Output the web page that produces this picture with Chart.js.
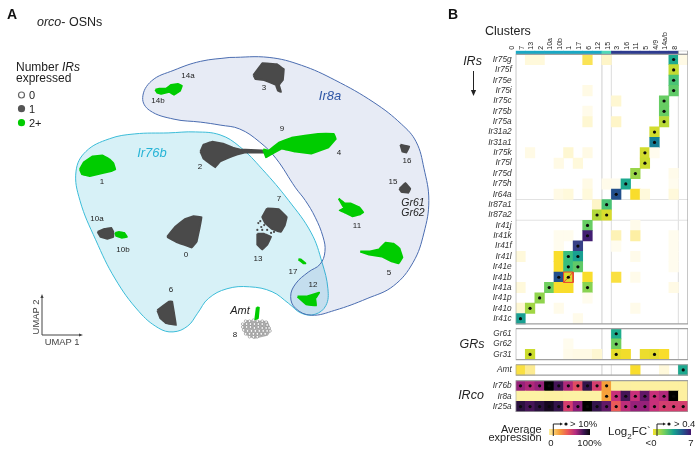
<!DOCTYPE html>
<html>
<head>
<meta charset="utf-8">
<script src="https://cdn.jsdelivr.net/npm/chart.js@4"></script>
<style>
  html, body { margin: 0; padding: 0; background: #fff; }
  #page { position: relative; width: 700px; height: 455px; overflow: hidden; font-family: "Liberation Sans", Arial, sans-serif; color: #222; }
  canvas { position: absolute; top: 0; }
  #umap { left: 0; }
  #matrix { left: 450px; }
  svg { position: absolute; left: 0; top: 0; }
  .t { position: absolute; white-space: nowrap; transform: translate(-50%, -50%); line-height: 1; }
  .r { transform: translate(-100%, -50%); text-align: right; }
  .l { transform: translate(0, -50%); }
  sub { font-size: 70%; line-height: 0; }
</style>
</head>
<body>
<div id="page">
  <canvas id="umap" width="450" height="455"></canvas>
  <canvas id="matrix" width="250" height="455"></canvas>
  <svg width="700" height="455">
    <defs>
      <linearGradient id="gExpr"><stop offset="0" stop-color="#fdf1a0"/><stop offset=".25" stop-color="#f6a13a"/><stop offset=".45" stop-color="#ec5a58"/><stop offset=".65" stop-color="#b32a80"/><stop offset=".85" stop-color="#3a1652"/><stop offset="1" stop-color="#0a0a0a"/></linearGradient>
      <linearGradient id="gFc"><stop offset="0" stop-color="#f3e22c"/><stop offset=".3" stop-color="#6fcf5f"/><stop offset=".55" stop-color="#16a08f"/><stop offset=".8" stop-color="#25508c"/><stop offset="1" stop-color="#43146c"/></linearGradient>
    </defs>
    <!-- legend A -->
    <circle cx="21.5" cy="95" r="3" fill="#fff" stroke="#666" stroke-width="1.2"/>
    <circle cx="21.5" cy="108.7" r="3.6" fill="#555"/>
    <circle cx="21.5" cy="122.7" r="3.6" fill="#00cc00"/>
    <!-- UMAP arrows -->
    <path d="M42 335V296M42 335H81" stroke="#444" fill="none"/>
    <path d="M42 294l-1.6 4h3.2zM83 335l-4 -1.6v3.2z" fill="#444"/>
    <!-- IRs arrow -->
    <path d="M473.5 71V93" stroke="#222" fill="none"/>
    <path d="M473.5 96l-2.6 -6h5.2z" fill="#222"/>
    <!-- colour bars -->
    <rect x="549" y="429" width="41" height="6" fill="url(#gExpr)"/>
    <rect x="653" y="429" width="38" height="6" fill="url(#gFc)"/>
    <path d="M553.3 436V424H561" stroke="#222" fill="none"/>
    <path d="M563 424l-3 -1.6v3.2z" fill="#222"/>
    <circle cx="566" cy="424" r="1.6" fill="#111"/>
    <path d="M657 436V424H664" stroke="#222" fill="none"/>
    <path d="M666 424l-3 -1.6v3.2z" fill="#222"/>
    <circle cx="669" cy="424" r="1.6" fill="#111"/>
  </svg>
</div>
<script>
// Panel A: blobs and regions (x right, y down)
const regionIr76b = [[167,131],[133,132],[107,137],[83,150],[73,170],[77,200],[93,240],[113,280],[137,313],[157,330],[172,334],[187,328],[197,315],[208,300],[227,290],[250,288],[273,293],[290,305],[303,315],[317,316],[328,307],[330,290],[324,263],[313,233],[290,200],[263,168],[240,145],[220,133],[195,130],[167,131]];
const regionIr8a = [[230,54],[200,58],[173,67],[150,78],[141,95],[148,108],[173,117],[200,120],[220,123],[240,127],[260,140],[277,157],[297,187],[307,200],[317,217],[325,237],[327,252],[322,265],[310,273],[297,285],[292,298],[297,310],[313,317],[337,312],[370,300],[397,287],[417,263],[428,233],[433,200],[428,167],[420,140],[405,122],[377,100],[337,77],[303,62],[270,54],[230,54]];

const grayClusters = [
  [[200,150],[203,143],[212,140],[223,142],[233,146],[240,148],[263,149],[265,151],[245,151],[237,153],[227,157],[220,160],[215,166],[208,161],[203,157],[200,150]], // 2
  [[254,72],[263,60],[278,61],[285,66],[284,77],[280,82],[282,89],[279,88],[277,82],[265,77],[256,76],[254,72]], // 3
  [[404,143],[413,145],[410,151],[406,150],[404,143]], // 16
  [[403,188],[409,182],[414,188],[412,192],[405,191],[403,188]], // 15
  [[268,208],[280,209],[288,217],[286,225],[282,232],[273,229],[266,223],[263,217],[268,208]], // 7
  [[258,234],[265,234],[272,237],[268,245],[263,250],[258,245],[258,234]], // 13
  [[166,237],[174,227],[184,219],[193,216],[201,217],[199,228],[196,242],[191,248],[175,242],[166,237]], // 0
  [[95,232],[102,229],[109,228],[111,232],[111,237],[105,239],[98,237],[95,232]], // 10a
  [[156,312],[168,303],[171,303],[173,315],[175,327],[165,325],[159,320],[156,312]] // 6
];
const greenClusters = [
  [[154,87],[158,86],[165,86],[170,82],[177,81],[181,83],[179,88],[173,92],[168,89],[160,91],[156,90],[154,87]], // 14
  [[77,168],[81,161],[90,155],[100,154],[107,158],[111,162],[113,168],[109,170],[100,172],[87,175],[79,173],[77,168]], // 1
  [[264,148],[270,149],[280,141],[293,136],[320,132],[336,132],[338,137],[330,146],[313,152],[297,150],[283,147],[270,154],[267,156],[264,148]], // 9 and 4
  [[341,198],[347,203],[353,203],[362,207],[366,212],[363,214],[355,216],[347,212],[342,210],[347,208],[341,198]], // 11
  [[113,233],[117,232],[122,233],[125,237],[120,238],[114,236],[113,233]], // 10b
  [[300,260],[302,260],[307,264],[305,264],[300,260]], // 17
  [[299,298],[308,298],[321,294],[317,300],[318,307],[308,306],[299,298]], // 12
  [[363,252],[373,252],[382,250],[389,243],[397,244],[403,249],[406,258],[402,264],[395,262],[385,257],[372,255],[363,252]], // 5
  [[257.5,309],[259.5,309],[258.5,320],[256,321],[257.5,309]] // Amt stem in 8
];
const graySpeckle = [[259,223],[262,227],[265,225],[268,230],[272,233],[258,230],[263,230],[275,232],[261,221]];
const cluster8Outline = [[243,328],[248,323],[268,324],[271,332],[268,337],[255,340],[246,336],[243,328]];
const cluster8 = [[246,323],[250,323],[254,322],[258,323],[263,323],[267,324],[243,326],[247,326],[251,326],[255,326],[259,326],[263,326],[268,327],[243,329],[247,329],[251,329],[255,330],[259,329],[263,330],[267,330],[270,330],[244,332],[248,333],[252,333],[256,333],[260,333],[264,333],[268,333],[271,333],[246,336],[250,336],[254,336],[258,336],[262,336],[266,336],[250,339],[254,339],[258,339]];

// Panel B: clusters (columns) and rows
const clusters = ['0','7','13','2','10a','10b','1','17','6','12','15','3','16','11','5','4/9','14a/b','8'];
const topBarColors = ['#19a8c4','#19a8c4','#19a8c4','#19a8c4','#19a8c4','#19a8c4','#19a8c4','#19a8c4','#19a8c4','#4fd8b8','#2e3b8f','#2e3b8f','#2e3b8f','#2e3b8f','#2e3b8f','#2e3b8f','#2e3b8f','#ffffff'];

const irRows = ['Ir75g','Ir75f','Ir75e','Ir75i','Ir75c','Ir75b','Ir75a','Ir31a2','Ir31a1','Ir75k','Ir75l','Ir75d','Ir75h','Ir64a','Ir87a1','Ir87a2','Ir41j','Ir41k','Ir41f','Ir41l','Ir41e','Ir41b','Ir41a','Ir41p','Ir41o','Ir41c'];
const irValues = [
  [0,.2,.2,0,0,0,0,.6,0,.3,0,0,0,0,0,0,3.8,.15],
  [0,0,0,0,0,0,0,0,0,0,0,0,0,0,0,0,1.5,0],
  [0,0,0,0,0,0,0,0,0,0,0,0,0,0,0,0,3,0],
  [0,0,0,0,0,0,0,.15,0,0,0,0,0,0,0,0,2.7,0],
  [0,0,0,0,0,0,0,0,0,0,.25,0,0,0,0,2.6,0,0],
  [0,0,0,0,0,0,0,.12,0,0,0,0,0,0,0,2.6,0,0],
  [0,0,0,0,0,0,0,.25,0,0,.3,0,0,0,0,1.6,0,0],
  [0,0,0,0,0,0,0,0,0,0,0,0,0,0,1.3,0,0,0],
  [0,0,0,0,0,0,0,0,0,0,0,0,0,0,4.7,0,0,0],
  [0,.15,0,0,0,.25,0,.15,0,0,0,0,0,1.3,.1,0,0,0],
  [0,0,0,0,.15,0,.2,0,0,0,0,0,0,1.4,0,0,0,0],
  [0,0,0,0,0,0,0,0,0,0,0,0,2,0,0,0,.12,0],
  [0,0,0,0,0,0,0,.15,0,.12,.1,3.8,0,0,0,0,.1,0],
  [0,0,0,0,.15,.2,0,.2,0,0,5.5,0,.7,.2,0,0,.2,0],
  [0,0,0,0,0,0,0,0,.3,3,0,0,0,0,0,0,0,0],
  [0,0,0,0,0,0,0,0,1.7,1.2,0,0,0,0,0,0,0,0],
  [0,0,0,0,0,0,0,2.6,0,0,0,0,.12,0,0,0,0,0],
  [0,0,0,0,.1,.1,0,6.8,0,0,.35,0,.4,0,0,0,.1,0],
  [0,0,0,0,.1,0,6,0,0,0,.1,0,0,0,0,0,.1,0],
  [.2,0,0,0,.7,3.2,4,0,0,0,0,0,.12,0,0,0,.1,0],
  [0,0,0,0,.7,3.2,2.7,0,0,0,0,0,0,0,0,0,.1,0],
  [0,0,0,0,5.5,1.2,0,.7,0,0,.65,0,.12,0,0,0,0,0],
  [.2,0,0,2.5,.7,.7,0,2.2,0,0,0,0,0,0,0,0,.15,0],
  [0,0,2.1,0,0,0,0,.1,0,0,0,0,0,0,0,0,0,0],
  [.25,1.9,0,0,.12,0,0,0,0,0,0,0,.12,0,0,0,0,0],
  [4,0,0,0,0,0,.12,0,0,0,0,0,0,0,0,0,0,0]
];
const grRows = ['Gr61','Gr62','Gr31'];
const grValues = [
  [0,0,0,0,0,0,0,0,0,0,3.7,0,0,0,0,0,0,0],
  [0,0,0,0,0,.1,0,0,0,0,2.5,0,0,0,0,0,0,0],
  [0,1.4,0,0,0,.12,.15,.15,.25,0,1,.8,0,.9,1,.7,0,0]
];
const amtRows = ['Amt'];
const amtValues = [[.65,.45,0,0,0,0,0,0,0,0,0,0,.7,0,0,.2,0,3.8]];
const ircoRows = ['Ir76b','Ir8a','Ir25a'];
const ircoPercent = [
  [70,65,70,100,85,65,50,88,55,25,3,3,3,3,3,3,3,3],
  [1,1,1,2,2,1,1,1,1,25,60,85,60,80,60,65,100,3],
  [90,85,90,95,88,55,72,100,88,80,45,62,70,70,60,55,55,55]
];

// row offset of each panel on the y axis, in row heights
const panelStart = { ir: 0, gr: 26.45, amt: 29.94, irco: 31.48 };
const panelRows = { ir: 26, gr: 3, amt: 1, irco: 3 };
const separators = [9, 10, 17]; // column edges with the faint guide lines

function lerpStops(stops, v) {
  if (v <= stops[0][0]) return stops[0][1];
  for (let i = 1; i < stops.length; i++) {
    if (v <= stops[i][0]) {
      const a = stops[i - 1], b = stops[i], k = (v - a[0]) / (b[0] - a[0]);
      const c = [1, 3, 5].map(p => Math.round(parseInt(a[1].substr(p, 2), 16) * (1 - k) + parseInt(b[1].substr(p, 2), 16) * k));
      return `rgb(${c[0]},${c[1]},${c[2]})`;
    }
  }
  return stops[stops.length - 1][1];
}
const fcStops = [[0,'#ffffff'],[.1,'#fffcee'],[.3,'#fef5c8'],[.5,'#fbe880'],[.7,'#f9dd2c'],[1.4,'#cbdc2e'],[2.5,'#6fcf5f'],[3.5,'#22b68b'],[4.5,'#0f8a98'],[5.5,'#23508c'],[6.2,'#3f3a85'],[7,'#43146c']];
const exprStops = [[0,'#fdf3a6'],[3,'#fdf0a0'],[25,'#f6a13a'],[45,'#ec5a58'],[60,'#c8307a'],[75,'#7e1a7a'],[88,'#34144c'],[100,'#000000']];

// build cells and dots for a panel
const cells = [], cellColors = [], dots = [];
function addPanel(values, start, stops, dotMin) {
  values.forEach((row, r) => row.forEach((v, c) => {
    if (v > 0) {
      cells.push({ x: c + .5, y: [start + r, start + r + 1] });
      cellColors.push(lerpStops(stops, v));
    }
    if (v >= dotMin) dots.push({ x: c + .5, y: start + r + .5 });
  }));
}
addPanel(irValues, panelStart.ir, fcStops, 1);
addPanel(grValues, panelStart.gr, fcStops, 1);
addPanel(amtValues, panelStart.amt, fcStops, 1);
addPanel(ircoPercent, panelStart.irco, exprStops, 10);
topBarColors.forEach((col, c) => {
  cells.push({ x: c + .5, y: [-.35, 0] });
  cellColors.push(col);
});

const rowLabels = [], rowTicks = [];
[[irRows, panelStart.ir], [grRows, panelStart.gr], [amtRows, panelStart.amt], [ircoRows, panelStart.irco]].forEach(([names, start]) => {
  names.forEach((n, i) => { rowLabels.push(n); rowTicks.push(start + i + .5); });
});

function lineSet(data, color, width, order) {
  return { type: 'line', data, borderColor: color, borderWidth: width, pointRadius: 0, fill: false, tension: 0, order };
}
function box(x0, x1, y0, y1, color, width, order) {
  return lineSet([{x:x0,y:y0},{x:x1,y:y0},{x:x1,y:y1},{x:x0,y:y1},{x:x0,y:y0}], color, width, order);
}

// fill closed outlines with the path of the line element itself
const polygonFill = {
  id: 'polygonFill',
  beforeDatasetDraw(chart, args) {
    const ds = chart.data.datasets[args.index];
    if (!ds.polyFill) return;
    const ctx = chart.ctx;
    const line = args.meta.dataset;
    line.updateControlPoints(chart.chartArea);
    ctx.save();
    ctx.beginPath();
    line.path(ctx);
    ctx.closePath();
    ctx.fillStyle = ds.polyFill;
    ctx.fill();
    ctx.restore();
  }
};

function blob(points, color) {
  return { data: points, showLine: true, polyFill: color, borderColor: color, borderWidth: 2, borderJoinStyle: 'round', pointRadius: 0, tension: .01, capBezierPoints: false };
}

new Chart(document.getElementById('umap'), {
  type: 'scatter',
  plugins: [polygonFill],
  data: {
    datasets: [
      { data: regionIr76b, showLine: true, polyFill: '#d7f1f7', borderColor: '#3bbcd8', borderWidth: 1, pointRadius: 0, tension: .4, capBezierPoints: false },
      { data: regionIr8a, showLine: true, polyFill: 'rgba(71,100,180,0.13)', borderColor: '#4a6cb0', borderWidth: 1, pointRadius: 0, tension: .4, capBezierPoints: false },
      ...grayClusters.map(c => blob(c, '#4a4a4a')),
      { data: graySpeckle, pointRadius: 1.1, backgroundColor: '#4a4a4a', borderWidth: 0 },
      blob(cluster8Outline, '#b0b0b0'),
      { data: cluster8, pointRadius: 1.3, backgroundColor: '#ffffff', borderColor: '#777', borderWidth: .5 },
      ...greenClusters.map(c => blob(c, '#00cc00'))
    ].map((d, i, all) => ({ ...d, order: all.length - i }))
  },
  options: {
    responsive: false,
    animation: false,
    events: [],
    layout: { padding: 0 },
    plugins: { legend: { display: false }, tooltip: { enabled: false } },
    scales: {
      x: { type: 'linear', display: false, min: 0, max: 450 },
      y: { type: 'linear', display: false, min: 0, max: 455, reverse: true }
    }
  }
});

const gridLines = [];
Object.keys(panelStart).forEach(p => {
  separators.forEach(c => gridLines.push(lineSet([{x:c,y:panelStart[p]},{x:c,y:panelStart[p]+panelRows[p]}], '#e2e2e2', 1, 9)));
});
[14, 16].forEach(r => gridLines.push(lineSet([{x:0,y:r},{x:18,y:r}], '#e2e2e2', 1, 9)));

new Chart(document.getElementById('matrix'), {
  type: 'bar',
  data: {
    datasets: [
      ...gridLines,
      { type: 'bar', data: cells, backgroundColor: cellColors, borderWidth: 0, barPercentage: 1, categoryPercentage: 1, order: 5 },
      ...Object.keys(panelStart).map(p => box(0, 18, panelStart[p], panelStart[p] + panelRows[p], '#a0a0a0', 1.2, 3)),
      box(17, 18, -.35, 0, '#a0a0a0', 1, 3),
      box(5, 6, 21, 22, '#e8432e', 1, 2),
      lineSet([{x:5,y:22},{x:6,y:21}], '#e8432e', 1, 2),
      { type: 'line', data: dots, showLine: false, pointRadius: 1.6, backgroundColor: '#0a0a0a', borderWidth: 0, order: 1 }
    ]
  },
  options: {
    responsive: false,
    animation: false,
    events: [],
    layout: { padding: { left: 0, top: 0, right: 12, bottom: 43 } },
    plugins: { legend: { display: false }, tooltip: { enabled: false } },
    scales: {
      x: {
        type: 'linear', position: 'top', min: 0, max: 18, offset: false,
        grid: { display: false, drawTicks: false }, border: { display: false },
        afterBuildTicks: s => { s.ticks = clusters.map((_, i) => ({ value: i + .5 })); },
        afterFit: s => { s.height = 50.7; },
        ticks: {
          autoSkip: false, minRotation: 90, maxRotation: 90, padding: 1,
          color: '#222', font: { family: '"Liberation Sans"', size: 7 },
          callback: (v, i) => clusters[i]
        }
      },
      y: {
        type: 'linear', min: -.35, max: 34.5, reverse: true,
        grid: { display: false, drawTicks: false }, border: { display: false },
        afterBuildTicks: s => { s.ticks = rowTicks.map(v => ({ value: v })); },
        afterFit: s => { s.width = 65.7; },
        ticks: {
          autoSkip: false, padding: 4,
          color: '#333', font: { family: '"Liberation Sans"', size: 8.3, style: 'italic' },
          callback: (v, i) => rowLabels[i]
        }
      }
    }
  }
});

// all the text around the charts
const page = document.getElementById('page');
function text(html, x, y, size, extra, cls) {
  const el = document.createElement('div');
  el.className = 't ' + (cls || '');
  el.innerHTML = html;
  el.style.left = x + 'px';
  el.style.top = y + 'px';
  el.style.fontSize = size + 'px';
  if (extra) el.style.cssText += extra;
  page.appendChild(el);
}
text('A', 12, 14, 14, 'font-weight:bold;color:#111');
text('B', 453, 14, 14, 'font-weight:bold;color:#111');
text('<i>orco</i>- OSNs', 37, 22, 12.5, '', 'l');
text('Number <i>IRs</i>', 16, 67, 12, '', 'l');
text('expressed', 16, 78, 12, '', 'l');
text('0', 29, 95, 11, '', 'l');
text('1', 29, 109, 11, '', 'l');
text('2+', 29, 123, 11, '', 'l');

const small = [['14a',188,76],['14b',158,101],['1',102,182],['2',200,167],['10a',97,219],['10b',123,250],['3',264,88],['9',282,129],['4',339,153],['16',407,161],['15',393,182],['11',357,226],['7',279,199],['0',186,255],['13',258,259],['17',293,272],['12',313,285],['5',389,273],['6',171,290],['8',235,335]];
small.forEach(s => text(s[0], s[1], s[2], 8, 'color:#222'));
text('Ir8a', 330, 95, 13, 'font-style:italic;color:#2f56a6');
text('Ir76b', 152, 152, 13, 'font-style:italic;color:#27b4d6');
text('Gr61', 413, 202, 10.5, 'font-style:italic');
text('Gr62', 413, 212, 10.5, 'font-style:italic');
text('Amt', 240, 310, 11, 'font-style:italic');
text('UMAP 1', 62, 342, 9.4, 'color:#444');
text('UMAP 2', 36, 317, 9.4, 'color:#444;transform:translate(-50%,-50%) rotate(-90deg)');

text('Clusters', 485, 31, 12.5, '', 'l');
text('IRs', 472.5, 61, 12.5, 'font-style:italic');
text('GRs', 472, 344, 12.5, 'font-style:italic');
text('IRco', 471, 395, 12.5, 'font-style:italic');
text('Average', 541.7, 429, 11, '', 'r');
text('expression', 541.7, 437, 11, '', 'r');
text('&gt; 10%', 570, 424, 9.5, '', 'l');
text('0', 551, 443, 9.5);
text('100%', 589.5, 443, 9.5);
text('Log<sub>2</sub>FC`', 608, 432, 11.5, '', 'l');
text('&gt; 0.4', 674, 424, 9.5, '', 'l');
text('&lt;0', 651, 443, 9.5);
text('7', 691, 443, 9.5);
</script>
</body>
</html>
